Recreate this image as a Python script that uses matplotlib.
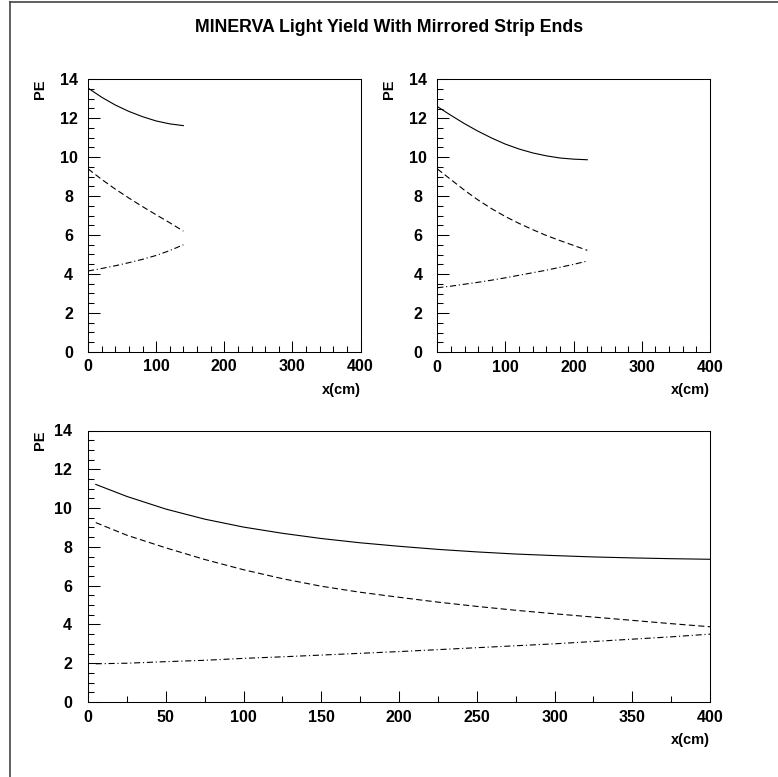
import matplotlib
matplotlib.use("Agg")
import matplotlib.pyplot as plt
from matplotlib.ticker import MultipleLocator
from matplotlib.lines import Line2D

plt.rcParams['font.family'] = ['Liberation Sans', 'DejaVu Sans']
plt.rcParams['font.weight'] = 'bold'

title = "MINERVA Light Yield With Mirrored Strip Ends"

# Top-left panel (strip length ~140 cm)
x_a = [0, 20, 40, 60, 80, 100, 120, 140]
total_a = [13.55, 13.08, 12.68, 12.35, 12.08, 11.86, 11.71, 11.62]
direct_a = [9.4, 8.86, 8.36, 7.9, 7.46, 7.04, 6.63, 6.2]
mirror_a = [4.15, 4.28, 4.42, 4.58, 4.75, 4.95, 5.2, 5.5]

# Top-right panel (strip length ~220 cm)
x_b = [0, 20, 40, 60, 80, 100, 120, 140, 160, 180, 200, 220]
total_b = [12.6, 12.15, 11.72, 11.33, 10.98, 10.67, 10.42, 10.22, 10.07, 9.96, 9.9, 9.87]
direct_b = [9.4, 8.85, 8.3, 7.8, 7.35, 6.95, 6.6, 6.28, 5.98, 5.72, 5.47, 5.22]
mirror_b = [3.3, 3.38, 3.48, 3.58, 3.69, 3.81, 3.94, 4.07, 4.2, 4.35, 4.5, 4.67]

# Bottom panel (strip length ~400 cm)
x_c = [5, 25, 50, 75, 100, 125, 150, 175, 200, 225, 250, 275, 300, 325, 350, 375, 400]
total_c = [11.22, 10.6, 9.95, 9.43, 9.02, 8.7, 8.43, 8.21, 8.03, 7.87, 7.74, 7.63, 7.55, 7.48, 7.43, 7.39, 7.36]
direct_c = [9.25, 8.6, 7.95, 7.35, 6.82, 6.36, 5.97, 5.66, 5.4, 5.15, 4.93, 4.73, 4.55, 4.38, 4.21, 4.04, 3.88]
mirror_c = [1.97, 2.0, 2.08, 2.15, 2.25, 2.33, 2.42, 2.51, 2.6, 2.7, 2.8, 2.9, 3.0, 3.12, 3.24, 3.36, 3.5]

x_label = "x(cm)"
y_label = "PE"

W, H = 778, 777
fig = plt.figure(figsize=(W / 100, H / 100), dpi=100)


def pos(l, r, t, b):
    return [l / W, 1 - b / H, (r - l) / W, (b - t) / H]


LW = 0.8
dash_style = (0, (5.5, 3.0))
dashdot_style = (0, (5.5, 2.5, 1.0, 2.5))
TICK_FS = 11.5


def panel(rect, x, tot, dire, mirr, xmaj, xmin, ylab_center):
    ax = fig.add_axes(rect)
    ax.plot(x, tot, color='black', lw=LW, linestyle='-')
    ax.plot(x, dire, color='black', lw=LW, linestyle=dash_style)
    ax.plot(x, mirr, color='black', lw=LW, linestyle=dashdot_style)
    ax.set_xlim(0, 400)
    ax.set_ylim(0, 14)
    ax.xaxis.set_major_locator(MultipleLocator(xmaj))
    ax.xaxis.set_minor_locator(MultipleLocator(xmin))
    ax.yaxis.set_major_locator(MultipleLocator(2))
    ax.yaxis.set_minor_locator(MultipleLocator(0.5))
    ax.tick_params(which='both', direction='in', top=False, right=False,
                   width=0.75, color='black')
    ax.tick_params(axis='x', which='major', length=8.0, pad=5.5, labelsize=TICK_FS)
    ax.tick_params(axis='x', which='minor', length=4.2)
    if ylab_center:
        ax.tick_params(axis='y', which='major', length=8.5, pad=14.0, labelsize=TICK_FS)
        for lab in ax.get_yticklabels():
            lab.set_horizontalalignment('center')
    else:
        ax.tick_params(axis='y', which='major', length=8.5, pad=11.5, labelsize=TICK_FS)
    ax.tick_params(axis='y', which='minor', length=4.5)
    for s in ax.spines.values():
        s.set_linewidth(0.75)
        s.set_color('black')
    for lab in ax.get_xticklabels() + ax.get_yticklabels():
        lab.set_fontweight('bold')
    return ax


r_a = (88, 360.5, 79.3, 351.8)
r_b = (437.3, 710, 79.3, 352)
r_c = (88, 710, 430.5, 702)

panel(pos(*r_a), x_a, total_a, direct_a, mirror_a, 100, 20, True)
panel(pos(*r_b), x_b, total_b, direct_b, mirror_b, 100, 20, True)
panel(pos(*r_c), x_c, total_c, direct_c, mirror_c, 50, 25, False)

# axis titles (ROOT style)
for (l, r, t, b) in (r_a, r_b, r_c):
    fig.text(r / W, 1 - (b + 38) / H, x_label, ha='right', va='center',
             fontsize=10.5, fontweight='bold')
    fig.text((l - 48) / W, 1 - t / H, y_label, ha='center', va='top',
             rotation=90, fontsize=10.5, fontweight='bold')

fig.text(389 / W, 1 - 27 / H, title, ha='center', va='center',
         fontsize=12.8, fontweight='bold')

# canvas frame lines (left and top)
fig.add_artist(Line2D([9.5 / W, 9.5 / W], [0, 1 - 1.5 / H],
                      transform=fig.transFigure, color='#444444', lw=1.2))
fig.add_artist(Line2D([9.5 / W, 1], [1 - 1.8 / H, 1 - 1.8 / H],
                      transform=fig.transFigure, color='#444444', lw=1.2))

fig.savefig("out.png", dpi=100)
